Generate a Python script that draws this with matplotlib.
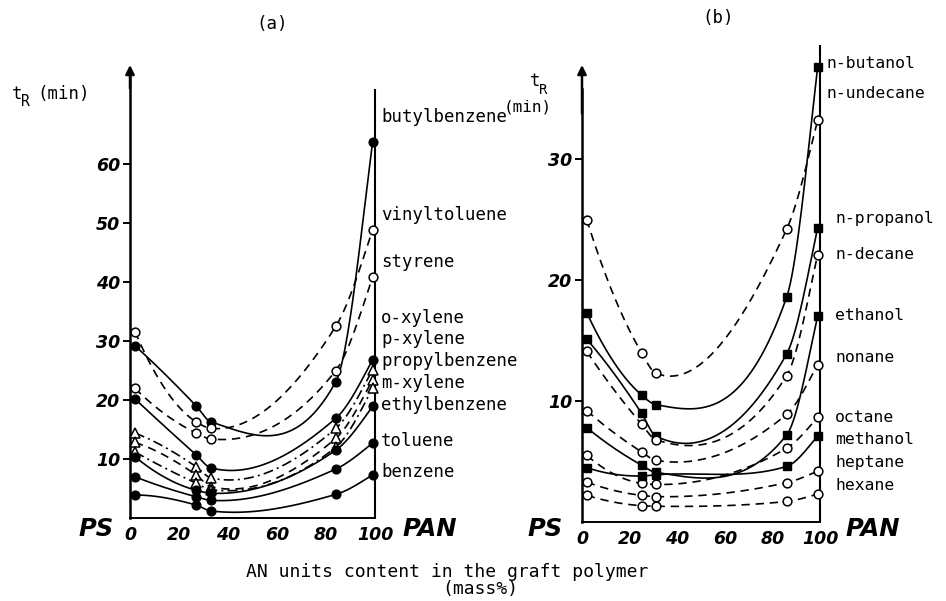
import numpy as np
import matplotlib
matplotlib.use("Agg")
import matplotlib.pyplot as plt

# ---------------- data ----------------
# panel (a): aromatic hydrocarbons
xa = [2, 27, 33, 84, 99]
butylbenzene = [29.2, 19.0, 16.3, 23.1, 63.7]
vinyltoluene = [31.6, 16.3, 15.2, 32.5, 48.8]
styrene = [22.0, 14.4, 13.4, 25.0, 40.8]
o_xylene = [20.2, 10.7, 8.5, 16.9, 26.8]
p_xylene = [14.4, 8.7, 6.8, 15.2, 25.1]
propylbenzene = [12.8, 7.3, 5.3, 13.5, 23.4]
m_xylene = [11.2, 5.9, 4.8, 12.0, 22.0]
ethylbenzene = [10.4, 4.7, 4.2, 11.5, 18.9]
toluene = [7.0, 3.6, 3.0, 8.3, 12.7]
benzene = [3.9, 2.2, 1.2, 4.0, 7.3]
names_a = ["butylbenzene", "vinyltoluene", "styrene", "o-xylene", "p-xylene",
           "propylbenzene", "m-xylene", "ethylbenzene", "toluene", "benzene"]
series_a = [butylbenzene, vinyltoluene, styrene, o_xylene, p_xylene,
            propylbenzene, m_xylene, ethylbenzene, toluene, benzene]
yticks_a = [10, 20, 30, 40, 50, 60]

# panel (b): alcohols and alkanes
xb = [2, 25, 31, 86, 99]
n_butanol = [17.3, 10.5, 9.7, 18.6, 37.6]
n_undecane = [25.0, 14.0, 12.3, 24.2, 33.2]
n_propanol = [15.1, 9.0, 7.1, 13.9, 24.3]
n_decane = [14.1, 8.1, 6.8, 12.1, 22.1]
ethanol = [7.8, 4.7, 4.1, 7.2, 17.0]
nonane = [9.2, 5.8, 5.1, 8.9, 13.0]
octane = [5.5, 3.2, 3.1, 6.1, 8.65]
methanol = [4.5, 3.8, 3.9, 4.6, 7.1]
heptane = [3.3, 2.2, 2.1, 3.25, 4.2]
hexane = [2.2, 1.35, 1.3, 1.7, 2.3]
names_b = ["n-butanol", "n-undecane", "n-propanol", "n-decane", "ethanol",
           "nonane", "octane", "methanol", "heptane", "hexane"]
series_b = [n_butanol, n_undecane, n_propanol, n_decane, ethanol,
            nonane, octane, methanol, heptane, hexane]
yticks_b = [10, 20, 30]
xticks = [0, 20, 40, 60, 80, 100]

# ---------------- styles ----------------
FILLED = dict(marker="o", mfc="black", mec="black", ms=6.3)
OPEN = dict(marker="o", mfc="white", mec="black", ms=6.3, mew=1.1)
TRI = dict(marker="^", mfc="white", mec="black", ms=6.8, mew=1.1)
SQ = dict(marker="s", mfc="black", mec="black", ms=5.8)
SOLID = dict(ls="-")
DASH = dict(ls=(0, (5, 3.5)))
DASHDOT = dict(ls=(0, (6, 2.5, 1.2, 2.5)))

style_a = [(SOLID, FILLED), (DASH, OPEN), (DASH, OPEN), (SOLID, FILLED),
           (DASHDOT, TRI), (DASH, TRI), (DASHDOT, TRI), (SOLID, FILLED),
           (SOLID, FILLED), (SOLID, FILLED)]
style_b = [(SOLID, SQ), (DASH, OPEN), (SOLID, SQ), (DASH, OPEN), (SOLID, SQ),
           (DASH, OPEN), (DASH, OPEN), (SOLID, SQ), (DASH, OPEN), (DASH, OPEN)]

W, H = 946, 601
MONO = "DejaVu Sans Mono"


def smooth_curve(x, y, xs):
    """Piecewise cubic Hermite curve drawn through the measured points."""
    x = np.asarray(x, float)
    y = np.asarray(y, float)
    n = len(x)
    h = np.diff(x)
    s = np.diff(y) / h
    d = np.zeros(n)
    for i in range(1, n - 1):
        par = (h[i] * s[i - 1] + h[i - 1] * s[i]) / (h[i - 1] + h[i])
        if s[i - 1] * s[i] > 0:
            w1 = 2 * h[i] + h[i - 1]
            w2 = h[i] + 2 * h[i - 1]
            hm = (w1 + w2) / (w1 / s[i - 1] + w2 / s[i])
            d[i] = 0.75 * hm + 0.25 * par
        else:
            d[i] = 0.35 * par

    def end_slope(h0, h1, s0, s1):
        dd = ((2 * h0 + h1) * s0 - h0 * s1) / (h0 + h1)
        if np.sign(dd) != np.sign(s0):
            dd = 0.0
        elif np.sign(s0) != np.sign(s1) and abs(dd) > abs(3 * s0):
            dd = 3 * s0
        return dd

    d[0] = end_slope(h[0], h[1], s[0], s[1])
    d[-1] = end_slope(h[-1], h[-2], s[-1], s[-2])
    idx = np.clip(np.searchsorted(x, xs) - 1, 0, n - 2)
    hh = h[idx]
    t = (xs - x[idx]) / hh
    h00 = 2 * t ** 3 - 3 * t ** 2 + 1
    h10 = t ** 3 - 2 * t ** 2 + t
    h01 = -2 * t ** 3 + 3 * t ** 2
    h11 = t ** 3 - t ** 2
    return h00 * y[idx] + h10 * hh * d[idx] + h01 * y[idx + 1] + h11 * hh * d[idx + 1]


def fx(px):
    return px / W


def fy(py):
    return 1 - py / H


fig = plt.figure(figsize=(W / 100, H / 100), dpi=100)
fig.patch.set_facecolor("white")


def make_panel(x0px, x100px, y0px, scale, ytop_px, arrow_px, rline_px,
               xs_data, series, styles, yticks):
    ylim_top = (y0px - ytop_px) / scale
    ax = fig.add_axes([fx(x0px), fy(y0px), (x100px - x0px) / W, (y0px - ytop_px) / H])
    ax.set_xlim(0, 100)
    ax.set_ylim(0, ylim_top)
    ax.patch.set_alpha(0)
    for s in ["top", "right"]:
        ax.spines[s].set_visible(False)
    arrow_v = (y0px - arrow_px) / scale
    ax.spines["left"].set_bounds(0, arrow_v - 2)
    ax.spines["left"].set_linewidth(1.8)
    ax.spines["bottom"].set_bounds(0, 100)
    ax.spines["bottom"].set_linewidth(1.4)
    ax.annotate("", xy=(0, arrow_v), xytext=(0, arrow_v - 4),
                arrowprops=dict(arrowstyle="-|>", color="black", lw=1.8,
                                mutation_scale=13, shrinkA=0, shrinkB=0),
                annotation_clip=False)
    ax.plot([100, 100], [0, (y0px - rline_px) / scale], color="black", lw=1.5,
            clip_on=False, solid_capstyle="butt")
    ax.set_yticks(yticks)
    ax.set_yticklabels([str(t) for t in yticks], fontsize=12.5,
                       fontweight="bold", fontstyle="italic")
    ax.tick_params(axis="y", direction="out", length=5, width=1.4, pad=2)
    ax.set_xticks(xticks)
    ax.set_xticklabels([str(t) for t in xticks], fontsize=12.5,
                       fontweight="bold", fontstyle="italic")
    ax.tick_params(axis="x", length=0, pad=6)
    xx = np.linspace(xs_data[0], xs_data[-1], 400)
    for vals, (ls, mk) in zip(series, styles):
        yy = smooth_curve(xs_data, vals, xx)
        ax.plot(xx, yy, color="black", lw=1.2, clip_on=False, **ls)
        ax.plot(xs_data, vals, ls="none", clip_on=False, zorder=3, **mk)
    return ax


ax_a = make_panel(130, 375, 518, 5.9, 40, 65, 89, xa, series_a, style_a, yticks_a)
ax_b = make_panel(582, 820, 522, 12.1, 40, 65, 45, xb, series_b, style_b, yticks_b)

# series labels
labels_a_y = [117, 215, 262, 318, 339, 361, 383, 405, 441, 472]
for name, yp in zip(names_a, labels_a_y):
    fig.text(fx(381), fy(yp), name, family=MONO, fontsize=12.5, va="center", ha="left")
labels_b_y = [64, 93, 219, 254, 316, 357, 418, 439, 462, 485]
labels_b_x = [826, 826, 835, 835, 835, 835, 835, 835, 835, 835]
for name, xp, yp in zip(names_b, labels_b_x, labels_b_y):
    fig.text(fx(xp), fy(yp), name, family=MONO, fontsize=11.8, va="center", ha="left")

# titles
fig.text(fx(272), fy(24), "(a)", family=MONO, fontsize=12.5, ha="center", va="center")
fig.text(fx(718), fy(18), "(b)", family=MONO, fontsize=12.5, ha="center", va="center")

# y axis titles
fig.text(fx(12), fy(94), "t", family=MONO, fontsize=12.5, ha="left", va="center")
fig.text(fx(21), fy(102), "R", family=MONO, fontsize=10.5, ha="left", va="center")
fig.text(fx(37), fy(94), "(min)", family=MONO, fontsize=12.5, ha="left", va="center")
fig.text(fx(530), fy(81), "t", family=MONO, fontsize=12.5, ha="left", va="center")
fig.text(fx(539.5), fy(90), "R", family=MONO, fontsize=10, ha="left", va="center")
fig.text(fx(504), fy(107), "(min)", family=MONO, fontsize=11.5, ha="left", va="center")

# PS / PAN end labels
for xp, txt in [(96, "PS"), (430, "PAN"), (545, "PS"), (873, "PAN")]:
    fig.text(fx(xp), fy(529), txt, fontsize=17.5, fontweight="bold",
             fontstyle="italic", ha="center", va="center")

# x axis title
fig.text(fx(447), fy(572), "AN units content in the graft polymer", family=MONO,
         fontsize=13, ha="center", va="center")
fig.text(fx(480), fy(589), "(mass%)", family=MONO, fontsize=13, ha="center", va="center")

fig.savefig("out.png", dpi=100, facecolor="white")
